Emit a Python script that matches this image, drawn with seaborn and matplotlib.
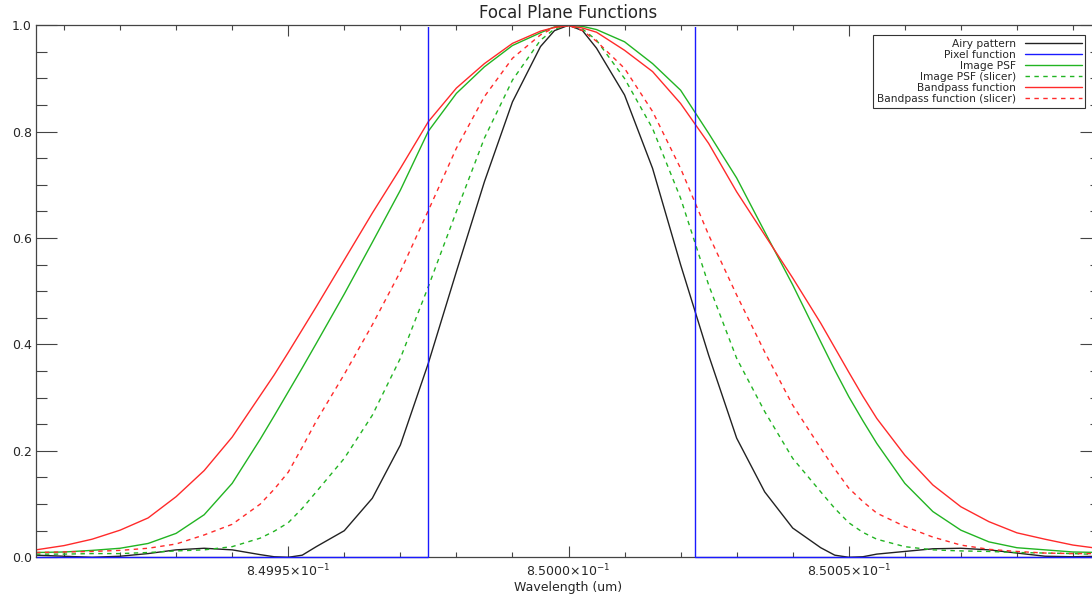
import numpy as np
import pandas as pd
import matplotlib
matplotlib.use("Agg")
import matplotlib.pyplot as plt
from matplotlib.ticker import FixedLocator
from matplotlib.patches import Rectangle
import seaborn as sns

# ---------------- data ----------------
center_um = 0.85
# wavelength offsets from 0.85 um, in units of 1e-5 um
offset_1e5 = [-9.5, -9.0, -8.5, -8.0, -7.5, -7.0, -6.5, -6.0, -5.5, -5.25,
              -5.0, -4.75, -4.5, -4.0, -3.5, -3.0, -2.5, -2.0, -1.5, -1.0,
              -0.5, -0.25, 0.0, 0.25, 0.5, 1.0, 1.5, 2.0, 2.5, 3.0,
              3.5, 4.0, 4.5, 4.75, 5.0, 5.25, 5.5, 6.0, 6.5, 7.0,
              7.5, 8.0, 8.5, 9.0, 9.5]

airy_pattern = [0.004, 0.002, 0.000, 0.002, 0.007, 0.014, 0.017, 0.014, 0.005, 0.001,
                0.000, 0.004, 0.020, 0.050, 0.111, 0.211, 0.365, 0.537, 0.706, 0.856,
                0.960, 0.990, 1.000, 0.990, 0.957, 0.869, 0.731, 0.550, 0.380, 0.224,
                0.123, 0.055, 0.018, 0.004, 0.000, 0.001, 0.006, 0.011, 0.016, 0.017,
                0.014, 0.008, 0.002, 0.001, 0.002]

image_psf = [0.009, 0.010, 0.013, 0.017, 0.026, 0.045, 0.080, 0.139, 0.222, 0.266,
             0.311, 0.356, 0.402, 0.495, 0.592, 0.690, 0.801, 0.872, 0.922, 0.962,
             0.986, 0.997, 1.000, 0.998, 0.992, 0.969, 0.928, 0.878, 0.797, 0.713,
             0.612, 0.512, 0.405, 0.352, 0.302, 0.257, 0.214, 0.139, 0.086, 0.051,
             0.029, 0.018, 0.014, 0.010, 0.009]

image_psf_slicer = [0.006, 0.006, 0.007, 0.007, 0.009, 0.012, 0.014, 0.020, 0.036, 0.049,
                    0.065, 0.092, 0.123, 0.186, 0.267, 0.374, 0.509, 0.650, 0.788, 0.897,
                    0.972, 0.993, 1.000, 0.993, 0.972, 0.900, 0.806, 0.675, 0.512, 0.374,
                    0.274, 0.186, 0.123, 0.092, 0.065, 0.047, 0.034, 0.020, 0.014, 0.012,
                    0.011, 0.009, 0.008, 0.007, 0.005]

bandpass = [0.014, 0.022, 0.034, 0.051, 0.074, 0.114, 0.163, 0.226, 0.304, 0.343,
            0.385, 0.428, 0.471, 0.559, 0.647, 0.731, 0.819, 0.882, 0.928, 0.966,
            0.989, 0.996, 0.999, 0.995, 0.987, 0.953, 0.913, 0.853, 0.778, 0.687,
            0.606, 0.525, 0.440, 0.394, 0.348, 0.303, 0.261, 0.192, 0.136, 0.095,
            0.067, 0.046, 0.034, 0.023, 0.016]

bandpass_slicer = [0.009, 0.010, 0.011, 0.013, 0.017, 0.025, 0.042, 0.062, 0.100, 0.128,
                   0.160, 0.207, 0.256, 0.344, 0.437, 0.537, 0.652, 0.769, 0.866, 0.938,
                   0.982, 0.996, 1.000, 0.990, 0.970, 0.919, 0.838, 0.731, 0.606, 0.493,
                   0.386, 0.286, 0.205, 0.166, 0.130, 0.105, 0.083, 0.058, 0.038, 0.023,
                   0.015, 0.011, 0.008, 0.007, 0.007]

# pixel (box) function
pixel_offset_1e5 = [-9.5, -2.506, -2.506, 2.259, 2.259, 9.5]
pixel_function = [0.0, 0.0, 1.0, 1.0, 0.0, 0.0]

xtick_values = [0.84995, 0.85000, 0.85005]
xtick_labels = ["8.4995\u00d710$^{-1}$", "8.5000\u00d710$^{-1}$", "8.5005\u00d710$^{-1}$"]
ytick_values = [0.0, 0.2, 0.4, 0.6, 0.8, 1.0]
ytick_labels = ["0.0", "0.2", "0.4", "0.6", "0.8", "1.0"]

series_names = ["Airy pattern", "Pixel function", "Image PSF",
                "Image PSF (slicer)", "Bandpass function", "Bandpass function (slicer)"]

# ---------------- plotting ----------------
sns.set_style("white")
plt.rcParams["font.family"] = ["DejaVu Sans"]
plt.rcParams["mathtext.fontset"] = "dejavusans"

wl = center_um + np.array(offset_1e5) * 1e-5
wl_pix = center_um + np.array(pixel_offset_1e5) * 1e-5

fig = plt.figure(figsize=(10.92, 5.97), dpi=100)
W, H = 1092.0, 597.0
ax_left, ax_right, ax_top, ax_bottom = 36.0, 1101.0, 25.3, 557.3
ax = fig.add_axes([ax_left / W, 1 - ax_bottom / H,
                   (ax_right - ax_left) / W, (ax_bottom - ax_top) / H])

lw = 1.0
black = "#222222"
blue = "#1a1aff"
green = "#22b422"
red = "#ff2a2a"

sns.lineplot(x=wl, y=airy_pattern, ax=ax, color=black, lw=lw,
             estimator=None, sort=False, label=series_names[0])
sns.lineplot(x=wl_pix, y=pixel_function, ax=ax, color=blue, lw=lw,
             estimator=None, sort=False, label=series_names[1])
sns.lineplot(x=wl, y=image_psf, ax=ax, color=green, lw=lw,
             estimator=None, sort=False, label=series_names[2])
sns.lineplot(x=wl, y=image_psf_slicer, ax=ax, color=green, lw=lw,
             estimator=None, sort=False, label=series_names[3])
sns.lineplot(x=wl, y=bandpass, ax=ax, color=red, lw=lw,
             estimator=None, sort=False, label=series_names[4])
sns.lineplot(x=wl, y=bandpass_slicer, ax=ax, color=red, lw=lw,
             estimator=None, sort=False, label=series_names[5])

lines = ax.get_lines()
for ln in (lines[3], lines[5]):
    ln.set_linestyle((0, (3.2, 3.2)))
lines[1].set_zorder(2.2)
# the top edge of the box function is hidden behind the top axis line
lines[1].set_clip_path(Rectangle((0, -0.02), 1, 1.02 - 0.004,
                                 transform=ax.transAxes))

ax.set_xlim(wl.min(), wl.max())
ax.set_ylim(0.0, 1.0)

ax.xaxis.set_major_locator(FixedLocator(xtick_values))
ax.set_xticklabels(xtick_labels)
ax.xaxis.set_minor_locator(FixedLocator(list(center_um + np.arange(-9, 10) * 1e-5)))
ax.set_yticks(ytick_values)
ax.set_yticklabels(ytick_labels)
ax.yaxis.set_minor_locator(FixedLocator(list(np.arange(0, 1.0001, 0.05))))

axis_col = "#444444"
ax.tick_params(axis="x", which="major", direction="in", length=7.6, width=0.8,
               color=axis_col, top=True, bottom=True, labelsize=9, pad=4)
ax.tick_params(axis="x", which="minor", direction="in", length=3.8, width=0.8,
               color=axis_col, top=True, bottom=True)
ax.tick_params(axis="y", which="major", direction="in", length=15.2, width=0.8,
               color=axis_col, left=True, right=True, labelsize=9, pad=3)
ax.tick_params(axis="y", which="minor", direction="in", length=7.6, width=0.8,
               color=axis_col, left=True, right=True)
for name, sp in ax.spines.items():
    sp.set_color(axis_col)
    sp.set_linewidth(0.9)
    sp.set_visible(True)
ax.spines["bottom"].set_zorder(1.5)

ax.set_title("Focal Plane Functions", fontsize=12, pad=5)
ax.set_xlabel("Wavelength (um)", fontsize=9, labelpad=1)
ax.set_ylabel("")

handles, labels = ax.get_legend_handles_labels()
leg = ax.legend(handles, labels, loc="upper left",
                bbox_to_anchor=(873 / W, 1 - 35 / H), bbox_transform=fig.transFigure,
                markerfirst=False, fontsize=7.7, frameon=True, fancybox=False,
                framealpha=1.0, edgecolor="#333333", borderpad=0.35,
                labelspacing=0.1, handlelength=5.3, handletextpad=0.85,
                borderaxespad=0.0)
leg.get_frame().set_linewidth(0.8)
leg.set_zorder(5)

fig.savefig("out.png", dpi=100)
